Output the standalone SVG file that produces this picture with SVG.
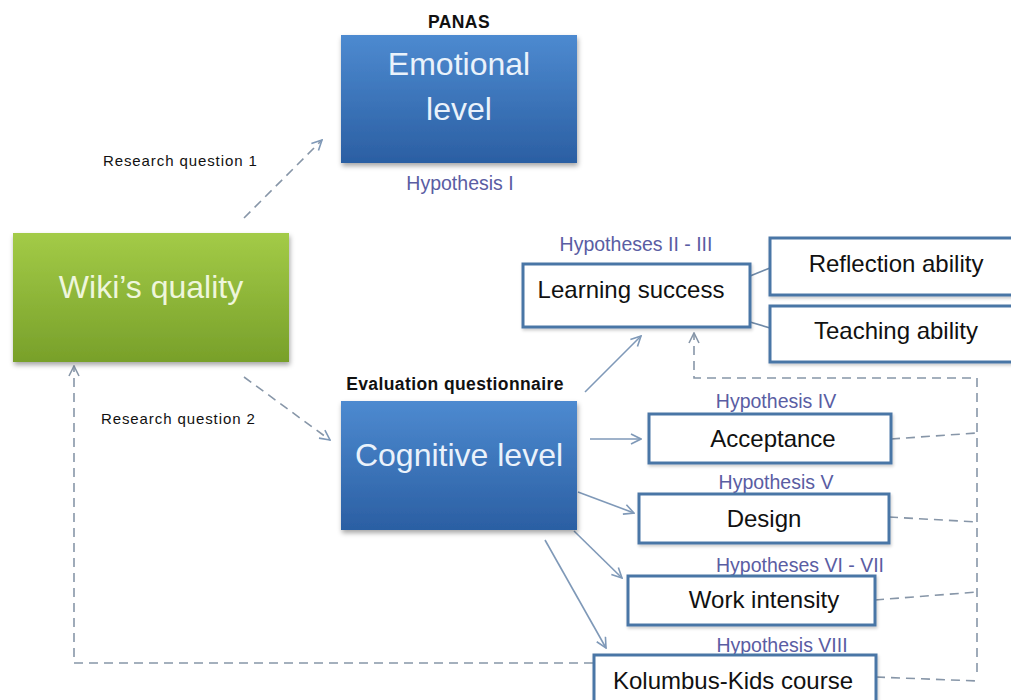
<svg xmlns="http://www.w3.org/2000/svg" width="1011" height="700" viewBox="0 0 1011 700">
  <style>
    .lbl { font-family: "Liberation Sans", Arial, sans-serif; font-size: 15px; letter-spacing: 0.9px; fill: #111; }
    .bold { font-family: "Liberation Sans", Arial, sans-serif; font-size: 17.5px; letter-spacing: 0.4px; font-weight: bold; fill: #111; text-anchor: middle; }
    .hyp { font-family: "Liberation Sans", Arial, sans-serif; font-size: 19.5px; fill: #5a5da3; text-anchor: middle; }
    .big { font-family: "Liberation Sans", Arial, sans-serif; font-size: 32px; fill: #eaf2fb; text-anchor: middle; }
    .box { fill: #ffffff; stroke: #4a76a6; stroke-width: 3; }
    .boxtxt { font-family: "Liberation Sans", Arial, sans-serif; font-size: 24px; fill: #111; text-anchor: middle; }
    .solid { fill: none; stroke: #7f99b8; stroke-width: 1.6; }
    .dash { fill: none; stroke: #8796a8; stroke-width: 1.6; stroke-dasharray: 9 6; }
    .tie { fill: none; stroke: #6f8aa8; stroke-width: 1.6; }
  </style>
  <defs>
    <linearGradient id="blueFill" x1="0" y1="0" x2="0" y2="1">
      <stop offset="0" stop-color="#4d8ad0"/>
      <stop offset="1" stop-color="#2b5fa3"/>
    </linearGradient>
    <linearGradient id="greenFill" x1="0" y1="0" x2="0" y2="1">
      <stop offset="0" stop-color="#a3cb47"/>
      <stop offset="1" stop-color="#78a02a"/>
    </linearGradient>
    <filter id="shadow" x="-10%" y="-10%" width="125%" height="130%">
      <feDropShadow dx="1" dy="3" stdDeviation="2.5" flood-color="#000" flood-opacity="0.35"/>
    </filter>
    <filter id="softShadow" x="-10%" y="-20%" width="125%" height="150%">
      <feDropShadow dx="1" dy="2" stdDeviation="1.5" flood-color="#000" flood-opacity="0.2"/>
    </filter>
    <marker id="open" viewBox="0 0 12 12" refX="11" refY="6" markerWidth="12" markerHeight="12" markerUnits="userSpaceOnUse" orient="auto">
      <path d="M1,1 L11,6 L1,11" fill="none" stroke="#7f99b8" stroke-width="1.6"/>
    </marker>
    <marker id="openGrey" viewBox="0 0 12 12" refX="11" refY="6" markerWidth="12" markerHeight="12" markerUnits="userSpaceOnUse" orient="auto">
      <path d="M1,1 L11,6 L1,11" fill="none" stroke="#8796a8" stroke-width="1.6"/>
    </marker>
  </defs>

  <rect width="1011" height="700" fill="#ffffff"/>

  <!-- connectors -->
  <g id="connectors">
    <!-- research questions -->
    <path class="dash" d="M244,218 L322,140" marker-end="url(#open)"/>
    <path class="dash" d="M244,377 L330,440" marker-end="url(#open)"/>
    <!-- cognitive level outputs -->
    <path class="solid" d="M585,392 L641,336" marker-end="url(#open)"/>
    <path class="solid" d="M590,439 L641,439" marker-end="url(#open)"/>
    <path class="solid" d="M578,492 L634,513" marker-end="url(#open)"/>
    <path class="solid" d="M574,531 L622,578" marker-end="url(#open)"/>
    <path class="solid" d="M545,540 L606,648" marker-end="url(#open)"/>
    <!-- learning success sub-aspects -->
    <path class="tie" d="M750,276 L770,268"/>
    <path class="tie" d="M750,322 L770,328"/>
    <!-- feedback collector -->
    <path class="dash" d="M891,439 L977,433"/>
    <path class="dash" d="M889,517 L977,522"/>
    <path class="dash" d="M875,600 L977,592"/>
    <path class="dash" d="M876,677 L977,681"/>
    <path class="dash" d="M977,672 L977,378 L694,378 L694,333" marker-end="url(#openGrey)"/>
    <path class="dash" d="M593,663 L74,663 L74,366" marker-end="url(#openGrey)"/>
  </g>

  <!-- emotional level -->
  <g id="emotional">
    <text class="bold" x="459" y="28">PANAS</text>
    <rect x="341" y="35" width="236" height="128" fill="url(#blueFill)" filter="url(#shadow)"/>
    <text class="big" x="459" y="75">Emotional</text>
    <text class="big" x="459" y="120">level</text>
    <text class="hyp" x="460" y="190">Hypothesis I</text>
  </g>

  <g id="rq1">
    <text class="lbl" x="103" y="166">Research question 1</text>
  </g>

  <!-- wiki quality -->
  <g id="wiki">
    <rect x="13" y="233" width="276" height="129" fill="url(#greenFill)" filter="url(#shadow)"/>
    <text class="big" x="151" y="298" fill="#eef6dc" style="fill:#eef6dc">Wiki’s quality</text>
  </g>

  <g id="rq2">
    <text class="lbl" x="101" y="424">Research question 2</text>
  </g>

  <!-- cognitive level -->
  <g id="cognitive">
    <text class="bold" x="455" y="390">Evaluation questionnaire</text>
    <rect x="341" y="401" width="236" height="129" fill="url(#blueFill)" filter="url(#shadow)"/>
    <text class="big" x="459" y="466">Cognitive level</text>
  </g>

  <!-- learning success -->
  <g id="learning">
    <text class="hyp" x="636" y="251">Hypotheses II - III</text>
    <rect class="box" x="523" y="264" width="227" height="63" filter="url(#softShadow)"/>
    <text class="boxtxt" x="631" y="298">Learning success</text>
  </g>

  <g id="reflection">
    <rect class="box" x="770" y="238" width="250" height="57" filter="url(#softShadow)"/>
    <text class="boxtxt" x="896" y="272">Reflection ability</text>
  </g>

  <g id="teaching">
    <rect class="box" x="770" y="306" width="250" height="56" filter="url(#softShadow)"/>
    <text class="boxtxt" x="896" y="339">Teaching ability</text>
  </g>

  <!-- acceptance -->
  <g id="acceptance">
    <text class="hyp" x="776" y="408">Hypothesis IV</text>
    <rect class="box" x="649" y="414" width="242" height="49" filter="url(#softShadow)"/>
    <text class="boxtxt" x="773" y="447">Acceptance</text>
  </g>

  <!-- design -->
  <g id="design">
    <text class="hyp" x="776" y="489">Hypothesis V</text>
    <rect class="box" x="639" y="494" width="250" height="49" filter="url(#softShadow)"/>
    <text class="boxtxt" x="764" y="527">Design</text>
  </g>

  <!-- work intensity -->
  <g id="work">
    <text class="hyp" x="800" y="572">Hypotheses VI - VII</text>
    <rect class="box" x="628" y="576" width="247" height="49" filter="url(#softShadow)"/>
    <text class="boxtxt" x="764" y="608">Work intensity</text>
  </g>

  <!-- Kolumbus-Kids course -->
  <g id="kolumbus">
    <text class="hyp" x="782" y="652">Hypothesis VIII</text>
    <rect class="box" x="594" y="655" width="282" height="60" filter="url(#softShadow)"/>
    <text class="boxtxt" x="733" y="689">Kolumbus-Kids course</text>
  </g>
</svg>
